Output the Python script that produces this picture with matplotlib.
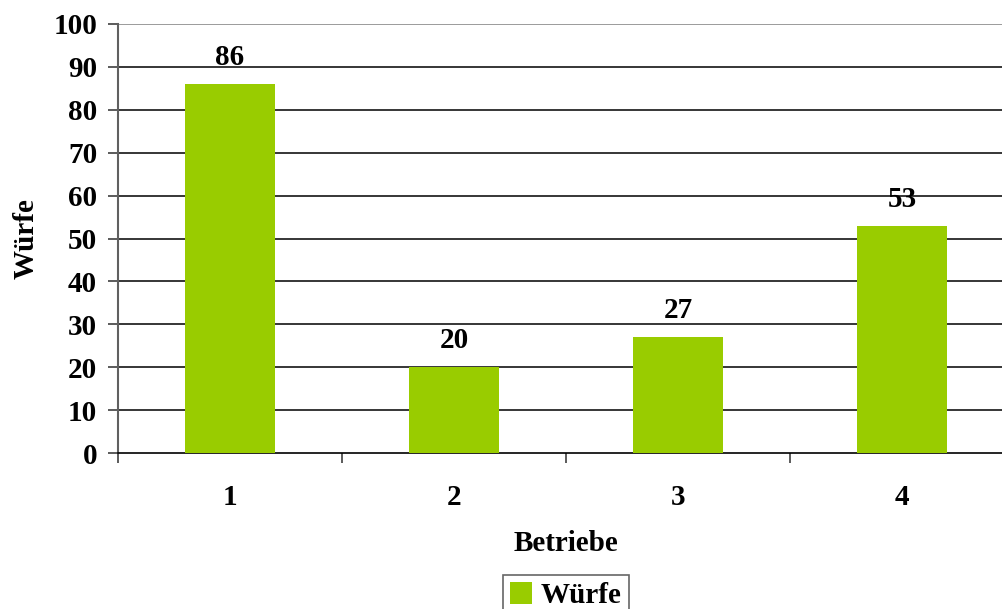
import numpy as np
import matplotlib.pyplot as plt

categories = ["1", "2", "3", "4"]
wuerfe = [86, 20, 27, 53]
y_ticks = [0, 10, 20, 30, 40, 50, 60, 70, 80, 90, 100]

plt.rcParams['font.family'] = ['Liberation Serif', 'DejaVu Serif']
plt.rcParams['font.weight'] = 'bold'
FS = 21

W, H = 1003, 609
fig = plt.figure(figsize=(W / 100, H / 100), dpi=100)
ax = fig.add_axes([118 / W, (H - 453) / H, 896 / W, 429 / H])

x = np.arange(1, len(categories) + 1)
bars = ax.bar(x, wuerfe, width=0.4, color='#99CC00', label='Würfe', zorder=3)

ax.set_xlim(0.5, len(categories) + 0.5)
ax.set_ylim(0, 100)
ax.set_yticks(y_ticks)
ax.set_yticklabels([str(v) for v in y_ticks], fontsize=FS, fontweight='bold')

# Category boundaries get tick marks, labels sit in the middle
ax.set_xticks(np.arange(0.5, len(categories) + 1.5, 1.0))
ax.set_xticklabels([])
ax.set_xticks(x, minor=True)
ax.set_xticklabels(categories, minor=True, fontsize=FS, fontweight='bold')
ax.tick_params(axis='x', which='major', length=7, width=1.2, color='#404040', direction='out')
ax.tick_params(axis='x', which='minor', length=0, pad=22)
ax.tick_params(axis='y', length=7, width=1.2, color='#404040', direction='out', pad=8)

for v in y_ticks[1:]:
    ax.axhline(v, color='#808080' if v == 100 else 'black', linewidth=1.1, zorder=1)

for s in ['top', 'right']:
    ax.spines[s].set_visible(False)
ax.spines['left'].set_color('#606060')
ax.spines['left'].set_linewidth(1.5)
ax.spines['bottom'].set_color('black')
ax.spines['bottom'].set_linewidth(1.2)

for b, v in zip(bars, wuerfe):
    ax.text(b.get_x() + b.get_width() / 2, v + 3, str(v), ha='center', va='bottom',
            fontsize=FS, fontweight='bold')

ax.set_ylabel('Würfe', fontsize=FS, fontweight='bold', labelpad=10)
ax.set_xlabel('Betriebe', fontsize=FS, fontweight='bold', labelpad=14)

leg = fig.legend(loc='upper center', bbox_to_anchor=(566 / W, 1 - 575 / H), fontsize=FS,
                 frameon=True, fancybox=False, handlelength=0.75, handleheight=0.75,
                 handletextpad=0.3, borderpad=0.25, borderaxespad=0)
leg.get_frame().set_edgecolor('#404040')
leg.get_frame().set_linewidth(1.2)
for t in leg.get_texts():
    t.set_fontweight('bold')

fig.savefig('out.png', dpi=100)
